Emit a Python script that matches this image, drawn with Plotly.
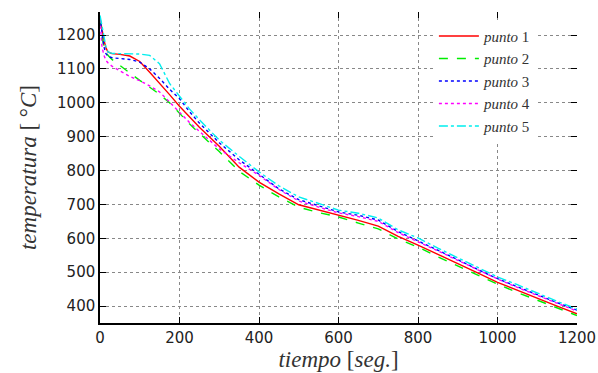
import plotly.graph_objects as go

# time [s]
t = [0, 5, 10, 15, 20, 30, 50, 75, 100, 125, 150, 175, 200, 225, 250, 300, 350, 400,
     450, 500, 550, 600, 650, 700, 750, 800, 850, 900, 950, 1000, 1050, 1100, 1150, 1200]

punto1 = [1250, 1215, 1185, 1162, 1150, 1145, 1143, 1138, 1122, 1090, 1058, 1024, 990, 958, 928, 872, 810, 766,
          731, 699, 684, 669, 653, 636, 606, 580, 553, 527, 498, 470, 446, 422, 400, 377]
punto2 = [1248, 1195, 1165, 1150, 1140, 1128, 1110, 1088, 1066, 1046, 1025, 1000, 968, 938, 910, 856, 798, 757,
          722, 692, 676, 663, 645, 628, 598, 574, 545, 518, 490, 465, 440, 417, 394, 372]
punto3 = [1252, 1200, 1165, 1145, 1137, 1133, 1131, 1128, 1120, 1100, 1072, 1040, 1012, 974, 940, 882, 832, 788,
          746, 714, 696, 678, 668, 654, 620, 593, 565, 537, 508, 481, 457, 433, 410, 388]
punto4 = [1245, 1165, 1140, 1125, 1118, 1108, 1094, 1078, 1065, 1050, 1032, 1002, 970, 942, 916, 864, 823, 786,
          744, 710, 692, 675, 664, 650, 617, 591, 563, 535, 507, 480, 455, 432, 408, 385]
punto5 = [1258, 1230, 1195, 1165, 1150, 1146, 1145, 1144, 1144, 1140, 1115, 1057, 1020, 982, 950, 890, 842, 796,
          755, 722, 703, 683, 674, 660, 625, 601, 571, 543, 514, 486, 463, 438, 414, 391]

series = [
    ("<i>punto</i> 1", punto1, "#ff0000", "solid"),
    ("<i>punto</i> 2", punto2, "#00ee00", "dash"),
    ("<i>punto</i> 3", punto3, "#0000ff", "dot"),
    ("<i>punto</i> 4", punto4, "#ff00ff", "dot"),
    ("<i>punto</i> 5", punto5, "#00eeee", "dashdot"),
]

x_ticks = [0, 200, 400, 600, 800, 1000, 1200]
y_ticks = [400, 500, 600, 700, 800, 900, 1000, 1100, 1200]

fig = go.Figure()
for name, vals, color, dash in series:
    fig.add_trace(go.Scatter(x=t, y=vals, mode="lines", name=name,
                             line=dict(color=color, width=1.4, dash=dash)))

# dummy trace for mirrored tick axes
fig.add_trace(go.Scatter(x=[None], y=[None], xaxis="x2", yaxis="y2", showlegend=False, hoverinfo="skip"))

tickfont = dict(family="DejaVu Sans", size=15, color="#222")
titlefont = dict(family="Liberation Serif", size=23, color="#333")
grid = dict(showgrid=True, gridcolor="#888", griddash="dot", gridwidth=1)

fig.update_layout(
    width=598, height=373,
    margin=dict(l=100, r=21, t=12, b=50),
    paper_bgcolor="white", plot_bgcolor="white",
    xaxis=dict(range=[0, 1200], tickvals=x_ticks, ticks="inside", ticklen=6, tickcolor="black",
               showline=True, linecolor="black", linewidth=1.5, automargin=False,
               zeroline=False, tickfont=tickfont, **grid,
               title=dict(text="<i>tiempo</i> [<i>seg.</i>]", font=titlefont, standoff=0)),
    yaxis=dict(range=[350, 1268], tickvals=y_ticks, ticks="inside", ticklen=6, tickcolor="black",
               showline=True, linecolor="black", linewidth=1.5, automargin=False,
               zeroline=False, tickfont=tickfont, **grid,
               title=dict(text="<i>temperatura</i> [ °<i>C</i>]", font=titlefont, standoff=14)),
    xaxis2=dict(overlaying="x", matches="x", side="top", anchor="y2", tickvals=x_ticks,
                ticks="inside", ticklen=6, tickcolor="black", showticklabels=False, automargin=False,
                showgrid=False, showline=False, zeroline=False),
    yaxis2=dict(overlaying="y", matches="y", side="right", anchor="x2", tickvals=y_ticks,
                ticks="inside", ticklen=6, tickcolor="black", showticklabels=False, automargin=False,
                showgrid=False, showline=False, zeroline=False),
    legend=dict(x=0.70, y=0.975, xanchor="left", yanchor="top", bgcolor="white",
                font=dict(family="Liberation Serif", size=15, color="#333"),
                tracegroupgap=0, itemwidth=40),
    showlegend=True,
)

fig.write_html("out.html", config={"displayModeBar": False},
               post_script="document.body.style.margin='0';document.body.style.overflow='hidden';")
